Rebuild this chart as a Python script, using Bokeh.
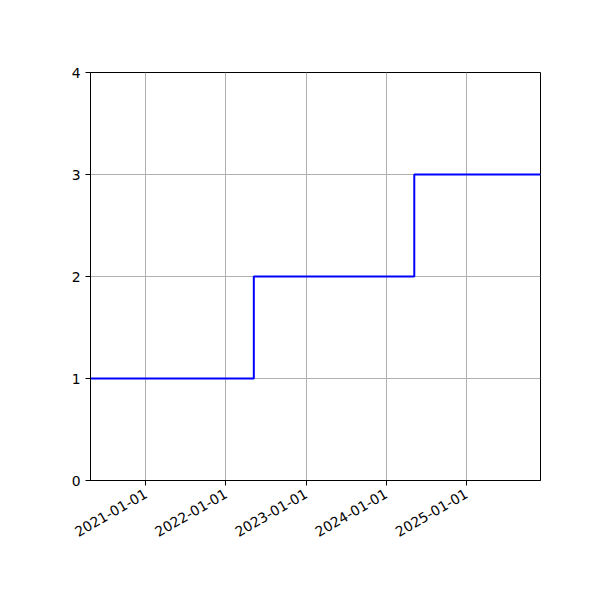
import numpy as np
import pandas as pd
from bokeh.plotting import figure
from bokeh.models import FixedTicker, DatetimeTickFormatter, Range1d
from bokeh.embed import file_html
from bokeh.resources import INLINE

step_dates = ["2020-04-24", "2022-05-08", "2024-05-08", "2025-12-04"]
step_values = [1, 2, 3, 3]
x_start, x_end = "2020-04-24", "2025-12-04"
tick_dates = ["2021-01-01", "2022-01-01", "2023-01-01", "2024-01-01", "2025-01-01"]
y_ticks = [0, 1, 2, 3, 4]

def ms(d):
    return pd.Timestamp(d).value / 1e6

x = pd.to_datetime(step_dates)

p = figure(width=592, height=592, x_axis_type="datetime",
           output_backend="svg", toolbar_location=None,
           x_range=Range1d(ms(x_start), ms(x_end)), y_range=Range1d(0, 4),
           min_border_left=90, min_border_right=52, min_border_top=72, min_border_bottom=112)
p.frame_width = 450
p.frame_height = 408

p.step(x, step_values, mode="after", line_color="blue", line_width=2)

p.xaxis.ticker = FixedTicker(ticks=[ms(d) for d in tick_dates])
p.xaxis.formatter = DatetimeTickFormatter(years="%Y-%m-%d", months="%Y-%m-%d", days="%Y-%m-%d")
p.xaxis.major_label_orientation = np.pi / 6
p.xaxis.major_label_standoff = 7
p.yaxis.ticker = FixedTicker(ticks=y_ticks)

for ax in [p.xaxis[0], p.yaxis[0]]:
    ax.major_label_text_font = "DejaVu Sans"
    ax.major_label_text_font_size = "13.9px"
    ax.major_label_text_color = "black"
    ax.axis_line_color = "black"
    ax.major_tick_line_color = "black"
    ax.major_tick_out = 5
    ax.major_tick_in = 0
    ax.minor_tick_line_color = None

p.grid.grid_line_color = "#b0b0b0"
p.grid.grid_line_width = 1
p.outline_line_color = "black"
p.outline_line_width = 1
p.background_fill_color = "white"
p.border_fill_color = "white"

open("out.html", "w").write(file_html(p, INLINE))
